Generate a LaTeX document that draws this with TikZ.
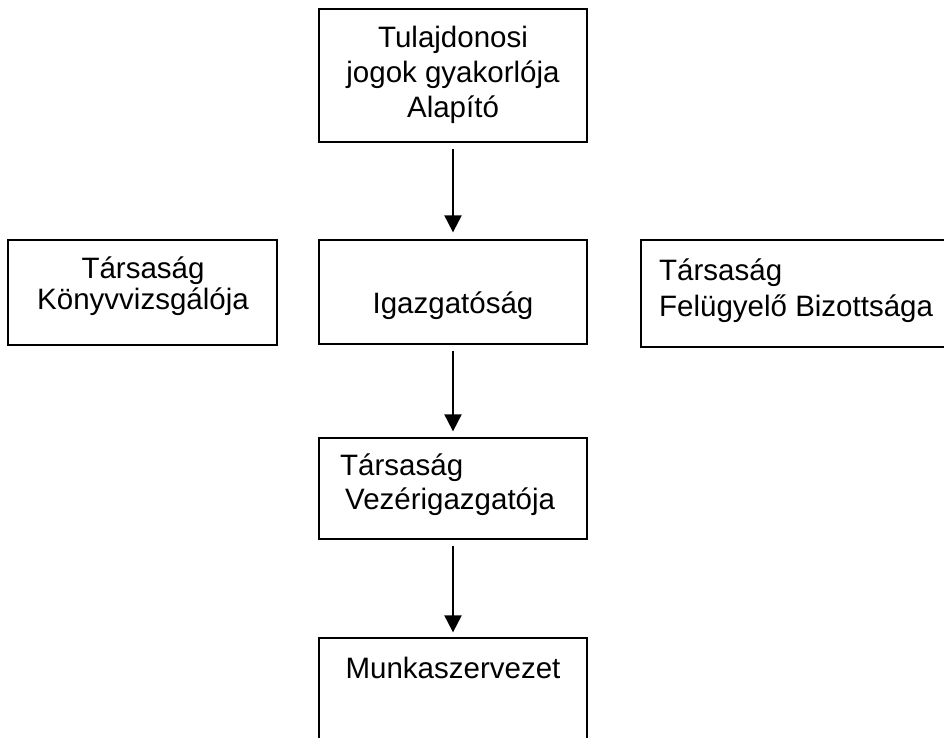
\documentclass[tikz,border=0pt]{standalone}
\usepackage{fontspec}
\setmainfont{Liberation Sans}
\usetikzlibrary{arrows.meta}
\begin{document}
\begin{tikzpicture}[x=1pt,y=-1pt,
  box/.style={draw=black, line width=1.3pt, rectangle, inner sep=0pt},
  txt/.style={inner sep=0pt, font=\fontsize{29.5}{35}\selectfont},
  arr/.style={line width=2pt, -{Triangle[width=17pt,length=17pt]}}]
\useasboundingbox (0,0) rectangle (944,737);
% boxes
\node[box, minimum width=268pt, minimum height=133pt] (top) at (453,75.5) {};
\node[box, minimum width=269pt, minimum height=105pt] (left) at (142.5,292.5) {};
\node[box, minimum width=268pt, minimum height=104pt] (mid) at (453,292) {};
\node[box, minimum width=400pt, minimum height=107pt] (right) at (841,293.5) {};
\node[box, minimum width=268pt, minimum height=101pt] (vez) at (453,488.5) {};
\node[box, minimum width=268pt, minimum height=140pt] (munk) at (453,708) {};
% texts
\node[txt, anchor=base] (t1) at (453,47) {Tulajdonosi};
\node[txt, anchor=base] (t2) at (453,82) {jogok gyakorlója};
\node[txt, anchor=base] (t3) at (453,117) {Alapító};
\node[txt, anchor=base] (l1) at (143,278) {Társaság};
\node[txt, anchor=base] (l2) at (143,309) {Könyvvizsgálója};
\node[txt, anchor=base] (m1) at (453,313) {Igazgatóság};
\node[txt, anchor=base west] (r1) at (659,280) {Társaság};
\node[txt, anchor=base west] (r2) at (659,316) {Felügyelő Bizottsága};
\node[txt, anchor=base west] (v1) at (340,475) {Társaság};
\node[txt, anchor=base west] (v2) at (345,509) {Vezérigazgatója};
\node[txt, anchor=base] (w1) at (453,678) {Munkaszervezet};
% arrows
\draw[arr, shorten <=6pt, shorten >=7pt] (top) -- (mid);
\draw[arr, shorten <=6pt, shorten >=6pt] (mid) -- (vez);
\draw[arr, shorten <=6pt, shorten >=5pt] (vez) -- (munk);
\end{tikzpicture}
\end{document}
